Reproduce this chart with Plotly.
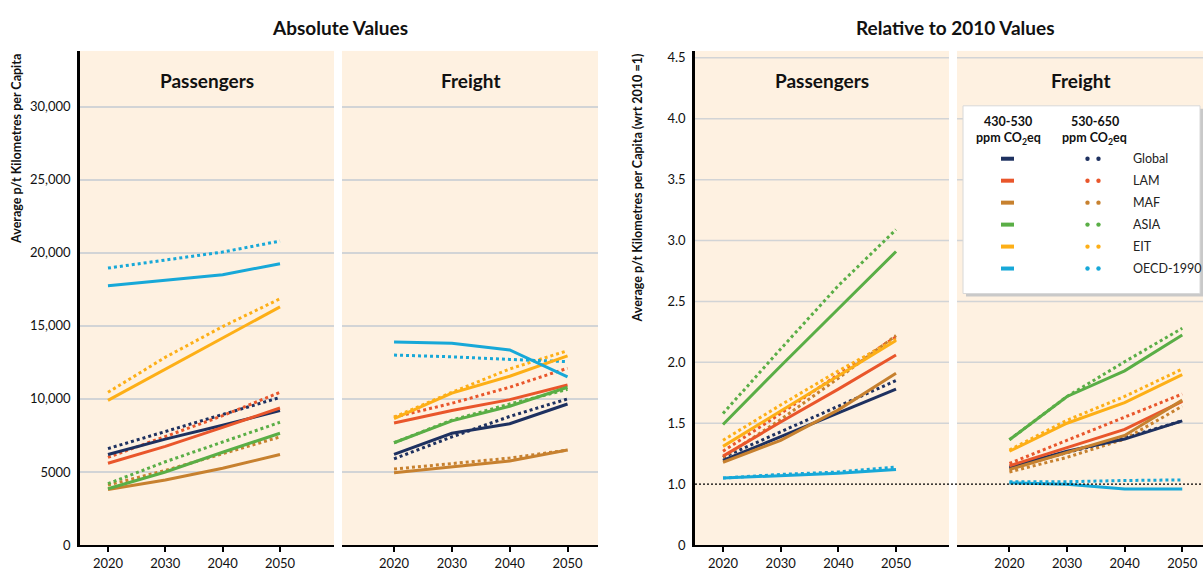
import plotly.graph_objects as go

# Positions below are window pixels (1203 x 574). The captured page is
# squeezed vertically by 574/582, so the figure is 582 px tall and its
# paper fractions are computed against 574 px.
W, H = 1203, 582
HP = 574

# ---------------- data ----------------
years = [2020, 2030, 2040, 2050]
regions = ["Global", "LAM", "MAF", "ASIA", "EIT", "OECD-1990"]
colors = ["#1E3160", "#E9562B", "#C7812F", "#5AAE46", "#FDAF17", "#17A8D8"]

# Absolute values, passengers (p-km per capita), order = regions
abs_pass_430 = [
    [6200, 7250, 8200, 9200],
    [5600, 6750, 8050, 9380],
    [3800, 4450, 5250, 6200],
    [3850, 5000, 6350, 7650],
    [9900, 12050, 14200, 16300],
    [17750, 18100, 18500, 19250],
]
abs_pass_530 = [
    [6600, 7750, 8900, 10100],
    [6000, 7400, 8850, 10450],
    [4100, 5100, 6250, 7400],
    [4200, 5700, 7050, 8400],
    [10450, 12850, 14950, 16850],
    [18950, 19500, 20050, 20800],
]
# Absolute values, freight (t-km per capita)
abs_frei_430 = [
    [6200, 7650, 8300, 9650],
    [8350, 9200, 9950, 10950],
    [4950, 5350, 5750, 6500],
    [7000, 8500, 9500, 10800],
    [8650, 10400, 11550, 12950],
    [13900, 13800, 13350, 11500],
]
abs_frei_530 = [
    [5900, 7400, 8800, 10000],
    [8750, 9700, 10800, 12100],
    [5200, 5550, 5950, 6500],
    [7000, 8550, 9650, 10650],
    [8750, 10450, 12050, 13300],
    [13000, 12880, 12700, 12550],
]
# Relative to 2010 values, passengers
rel_pass_430 = [
    [1.195, 1.39, 1.59, 1.78],
    [1.23, 1.51, 1.78, 2.06],
    [1.18, 1.36, 1.61, 1.91],
    [1.49, 1.97, 2.44, 2.91],
    [1.31, 1.60, 1.89, 2.18],
    [1.05, 1.07, 1.09, 1.12],
]
rel_pass_530 = [
    [1.22, 1.43, 1.64, 1.85],
    [1.27, 1.58, 1.90, 2.21],
    [1.22, 1.53, 1.87, 2.22],
    [1.58, 2.11, 2.63, 3.09],
    [1.36, 1.65, 1.93, 2.19],
    [1.05, 1.08, 1.10, 1.14],
]
# Relative to 2010 values, freight
rel_frei_430 = [
    [1.14, 1.27, 1.37, 1.52],
    [1.15, 1.30, 1.45, 1.68],
    [1.12, 1.26, 1.40, 1.69],
    [1.365, 1.72, 1.93, 2.225],
    [1.27, 1.50, 1.67, 1.90],
    [1.01, 1.00, 0.96, 0.96],
]
rel_frei_530 = [
    [1.13, 1.26, 1.38, 1.52],
    [1.17, 1.36, 1.55, 1.74],
    [1.10, 1.22, 1.37, 1.64],
    [1.365, 1.72, 2.005, 2.28],
    [1.28, 1.525, 1.72, 1.945],
    [1.02, 1.02, 1.03, 1.035],
]

abs_ticks = [0, 5000, 10000, 15000, 20000, 25000, 30000]
abs_ticktext = ["0", "5000", "10,000", "15,000", "20,000", "25,000", "30,000"]
# broken axis: the "0" label sits half a step below 1.0
rel_ticks = [0.5, 1.0, 1.5, 2.0, 2.5, 3.0, 3.5, 4.0, 4.5]
rel_ticktext = ["0", "1.0", "1.5", "2.0", "2.5", "3.0", "3.5", "4.0", "4.5"]
rel_grid = [1.5, 2.0, 2.5, 3.0, 3.5, 4.0, 4.5]

# ---------------- helpers ----------------
FONT = "Lato, 'Open Sans', sans-serif"
BG = "#FEF1E1"
GRID = "#D2D4D6"


def xp(px):
    return px / W


def yp(py):
    return 1 - py / HP


fig = go.Figure()

panels = [
    ("x", "y", abs_pass_430, abs_pass_530),
    ("x2", "y2", abs_frei_430, abs_frei_530),
    ("x3", "y3", rel_pass_430, rel_pass_530),
    ("x4", "y4", rel_frei_430, rel_frei_530),
]
for xa, ya, low, high in panels:
    for i, reg in enumerate(regions):
        fig.add_trace(go.Scatter(
            x=years, y=high[i], mode="lines", xaxis=xa, yaxis=ya,
            line=dict(color=colors[i], width=3, dash="dot"),
            name=reg + " 530-650", showlegend=False, hoverinfo="skip"))
    for i, reg in enumerate(regions):
        fig.add_trace(go.Scatter(
            x=years, y=low[i], mode="lines", xaxis=xa, yaxis=ya,
            line=dict(color=colors[i], width=3),
            name=reg + " 430-530", showlegend=False, hoverinfo="skip"))

ydom = [yp(545), yp(50)]
tickfont = dict(family=FONT, size=13, color="#111111")

xcommon = dict(showline=True, linecolor="black", linewidth=2, ticks="outside",
               ticklen=5, tickwidth=2, tickcolor="black", tickvals=years,
               showgrid=False, zeroline=False, tickfont=tickfont, fixedrange=True)

layout = dict(
    width=W, height=H, margin=dict(l=0, r=0, t=0, b=0),
    paper_bgcolor="white", plot_bgcolor=BG, showlegend=False,
    xaxis=dict(domain=[xp(80), xp(334)], range=[2015.12, 2059.42], anchor="y", **xcommon),
    xaxis2=dict(domain=[xp(342), xp(598)], range=[2011.0, 2055.27], anchor="y2", **xcommon),
    xaxis3=dict(domain=[xp(695), xp(949)], range=[2015.14, 2059.19], anchor="y3", **xcommon),
    xaxis4=dict(domain=[xp(957), xp(1203)], range=[2010.9, 2053.6], anchor="y4", **xcommon),
    yaxis=dict(domain=ydom, range=[0, 33811], anchor="x", tickvals=abs_ticks,
               ticktext=abs_ticktext, showline=True, linecolor="black", linewidth=2.5,
               ticks="", showgrid=True, gridcolor=GRID, gridwidth=1.5, zeroline=False,
               tickfont=tickfont, ticklabelstandoff=4, fixedrange=True),
    yaxis2=dict(domain=ydom, matches="y", anchor="x2", tickvals=abs_ticks,
                showticklabels=False, showline=False, ticks="", showgrid=True,
                gridcolor=GRID, gridwidth=1.5, zeroline=False, fixedrange=True),
    yaxis3=dict(domain=ydom, range=[0.5, 4.557], anchor="x3", tickvals=rel_ticks,
                ticktext=rel_ticktext, showline=True, linecolor="black", linewidth=2.5,
                ticks="", showgrid=False, zeroline=False, tickfont=tickfont,
                ticklabelstandoff=4, fixedrange=True),
    yaxis4=dict(domain=ydom, matches="y3", anchor="x4", showticklabels=False,
                showline=False, ticks="", showgrid=False, zeroline=False, fixedrange=True),
)
fig.update_layout(**layout)

shapes = []
# grid lines of the relative panels
for gv in rel_grid:
    for xr, yr in (("x3", "y3"), ("x4", "y4")):
        shapes.append(dict(type="line", xref=xr + " domain", yref=yr, x0=0, x1=1,
                           y0=gv, y1=gv, line=dict(color=GRID, width=1.5), layer="below"))
# reference line at 1.0
shapes.append(dict(type="line", xref="paper", yref="y3", x0=xp(695), x1=1, y0=1.0, y1=1.0,
                   line=dict(color="black", width=1.3, dash="2px,2px"), layer="above"))

# legend box (shadow + box)
shapes.append(dict(type="rect", xref="paper", yref="paper", x0=xp(966), x1=xp(1203),
                   y0=yp(296), y1=yp(108), fillcolor="#C9C9C9", line=dict(width=0), layer="above"))
shapes.append(dict(type="rect", xref="paper", yref="paper", x0=xp(963), x1=xp(1200),
                   y0=yp(293), y1=yp(105), fillcolor="white",
                   line=dict(color="#D8D8D8", width=1), layer="above"))

annotations = []
row_y = [158, 180, 202, 224, 246, 268]
for i, reg in enumerate(regions):
    ry = row_y[i]
    shapes.append(dict(type="line", xref="paper", yref="paper", x0=xp(1001), x1=xp(1014),
                       y0=yp(ry), y1=yp(ry), line=dict(color=colors[i], width=4), layer="above"))
    for cx in (1087.5, 1098.5):
        shapes.append(dict(type="circle", xref="paper", yref="paper",
                           x0=xp(cx - 2.2), x1=xp(cx + 2.2), y0=yp(ry + 2.2), y1=yp(ry - 2.2),
                           fillcolor=colors[i], line=dict(width=0), layer="above"))
    annotations.append(dict(text=reg, xref="paper", yref="paper", x=xp(1131), y=yp(ry),
                            xanchor="left", yanchor="middle", showarrow=False,
                            font=dict(family=FONT, size=12.5, color="#222222")))

for cx, lab in ((1008, "430-530"), (1094.5, "530-650")):
    annotations.append(dict(text="<b>" + lab + "</b>", xref="paper", yref="paper", x=xp(cx),
                            y=yp(121), xanchor="center", yanchor="middle", showarrow=False,
                            font=dict(family=FONT, size=12.5, color="#111111")))
    annotations.append(dict(text="<b>ppm CO<sub>2</sub>eq</b>", xref="paper", yref="paper",
                            x=xp(cx), y=yp(138), xanchor="center", yanchor="middle",
                            showarrow=False, font=dict(family=FONT, size=12.5, color="#111111")))

# titles
for cx, t in ((340, "Absolute Values"), (955, "Relative to 2010 Values")):
    annotations.append(dict(text="<b>" + t + "</b>", xref="paper", yref="paper", x=xp(cx),
                            y=yp(27), xanchor="center", yanchor="middle", showarrow=False,
                            font=dict(family=FONT, size=19, color="#111111")))
for xr, t in (("x", "Passengers"), ("x2", "Freight"), ("x3", "Passengers"), ("x4", "Freight")):
    annotations.append(dict(text="<b>" + t + "</b>", xref=xr + " domain", yref="paper", x=0.5,
                            y=yp(80), xanchor="center", yanchor="middle", showarrow=False,
                            font=dict(family=FONT, size=19, color="#111111")))

# y axis titles (top aligned with panels)
for cx, t in ((17, "Average p/t Kilometres per Capita"),
              (637, "Average p/t Kilometres per Capita (wrt 2010 =1)")):
    annotations.append(dict(text="<b>" + t + "</b>", xref="paper", yref="paper", x=xp(cx),
                            y=yp(51), xanchor="center", yanchor="top", textangle=-90,
                            showarrow=False, font=dict(family=FONT, size=12.5, color="#111111")))

fig.update_layout(shapes=shapes, annotations=annotations)

# remove the page margin so that the figure starts at the window corner
POST = (
    "document.documentElement.style.margin='0';"
    "document.body.style.margin='0';"
    "document.documentElement.style.overflow='hidden';"
)
fig.write_html("out.html", config={"displayModeBar": False}, post_script=POST)
